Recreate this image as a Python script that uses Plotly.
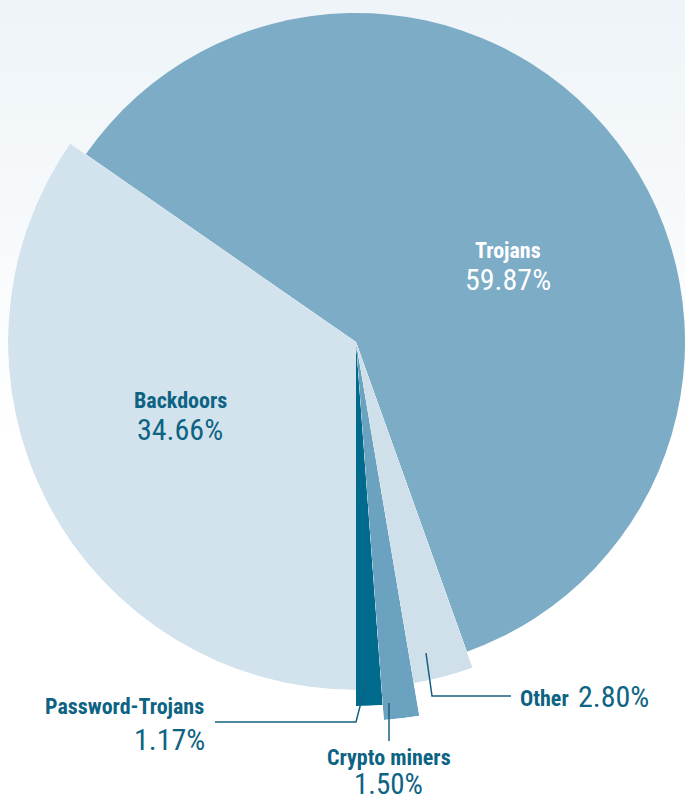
import math
import plotly.graph_objects as go

# ---------------- data ----------------
categories = ["Backdoors", "Trojans", "Other", "Crypto miners", "Password-Trojans"]
shares = [34.66, 59.87, 2.80, 1.50, 1.17]
value_labels = ["34.66%", "59.87%", "2.80%", "1.50%", "1.17%"]

# ---------------- styles ----------------
slice_colors = ["#d3e3ed", "#7cacc6", "#cfe0eb", "#6aa2bf", "#006b8c"]
slice_radius_px = [348, 333, 346, 379, 364]   # visual "pop-out" radius per slice
W, H = 685, 803
CX, CY = 356, 342          # pie centre in page pixels
START = 180                # compass angle where the first slice starts (clockwise)
TEXT = "#0d6383"
LINE = "#16607f"
BOLD_FONT = "Liberation Sans Narrow, Arial Narrow, Roboto Condensed, sans-serif"
NUM_FONT = "Liberation Sans Narrow, Arial Narrow, Roboto Condensed, sans-serif"


def sector_bbox(s0, s1):
    """Same bounding-box rule plotly.js uses for a polar sector."""
    arc = s1 - s0
    a0 = s0 % 360
    a1 = a0 + arc
    c0, n0 = math.cos(math.radians(a0)), math.sin(math.radians(a0))
    c1, n1 = math.cos(math.radians(a1)), math.sin(math.radians(a1))
    if (a0 <= 90 and a1 >= 90) or (a0 > 90 and a1 >= 450):
        y1 = 1
    elif n0 <= 0 and n1 <= 0:
        y1 = 0
    else:
        y1 = max(n0, n1)
    if (a0 <= 180 and a1 >= 180) or (a0 > 180 and a1 >= 540):
        x0 = -1
    elif c0 >= 0 and c1 >= 0:
        x0 = 0
    else:
        x0 = min(c0, c1)
    if (a0 <= 270 and a1 >= 270) or (a0 > 270 and a1 >= 630):
        y0 = -1
    elif n0 >= 0 and n1 >= 0:
        y0 = 0
    else:
        y0 = min(n0, n1)
    if a1 >= 360:
        x1 = 1
    elif c0 <= 0 and c1 <= 0:
        x1 = 0
    else:
        x1 = max(c0, c1)
    return x0, y0, x1, y1


fig = go.Figure()

# soft background wash (light at the top, white toward the bottom)
fig.add_trace(go.Scatter(
    x=[0, 1, 1, 0, 0], y=[0, 0, 1, 1, 0],
    mode="lines", fill="toself", line=dict(width=0),
    fillgradient=dict(type="vertical",
                      colorscale=[[0, "#ffffff"], [0.45, "#ffffff"], [1, "#eef4f8"]]),
    hoverinfo="skip", showlegend=False, xaxis="x", yaxis="y",
))

layout_polars = {}
cum = 0.0
for i, (name, val) in enumerate(zip(categories, shares)):
    t0 = START + cum * 3.6
    t1 = START + (cum + val) * 3.6
    cum += val
    # screen sector (ccw from east) for a clockwise axis rotated by 90
    s0, s1 = 90 - t1, 90 - t0
    x0, y0, x1, y1 = sector_bbox(s0, s1)
    up = H - CY
    lim = [slice_radius_px[i]]
    if x0 < 0:
        lim.append(CX / -x0)
    if x1 > 0:
        lim.append((W - CX) / x1)
    if y0 < 0:
        lim.append(up / -y0)
    if y1 > 0:
        lim.append(CY / y1)
    R = min(lim) - 0.001
    dom_x = [max(0, (CX + R * x0) / W), min(1, (CX + R * x1) / W)]
    dom_y = [max(0, (up + R * y0) / H), min(1, (up + R * y1) / H)]
    pid = "polar" if i == 0 else f"polar{i + 1}"
    layout_polars[pid] = dict(
        domain=dict(x=dom_x, y=dom_y),
        sector=[s0, s1],
        bgcolor="rgba(0,0,0,0)",
        hole=0,
        radialaxis=dict(visible=False, range=[0, R]),
        angularaxis=dict(visible=False, rotation=90, direction="clockwise"),
    )
    fig.add_trace(go.Barpolar(
        r=[slice_radius_px[i]],
        theta=[(t0 + t1) / 2],
        width=[t1 - t0],
        marker=dict(color=slice_colors[i], line=dict(width=0)),
        name=name,
        subplot=pid,
        hoverinfo="skip",
        showlegend=False,
    ))


def px(x):
    return x / W


def py(y):
    return 1 - y / H


annotations = []


def label(text, x, y, size, color, bold=False, anchor="center"):
    annotations.append(dict(
        text=f"<b>{text}</b>" if bold else text,
        x=px(x), y=py(y), xref="paper", yref="paper",
        xanchor=anchor, yanchor="middle", showarrow=False,
        font=dict(family=BOLD_FONT if bold else NUM_FONT, size=size, color=color),
    ))


idx = {c: k for k, c in enumerate(categories)}
# Trojans
label(categories[idx["Trojans"]], 508, 251, 22, "white", bold=True)
label(value_labels[idx["Trojans"]], 508, 279, 30, "white")
# Backdoors
label(categories[idx["Backdoors"]], 180, 400, 22, TEXT, bold=True)
label(value_labels[idx["Backdoors"]], 180, 429, 30, TEXT)
# Password-Trojans
label(categories[idx["Password-Trojans"]], 206, 706, 22, TEXT, bold=True, anchor="right")
label(value_labels[idx["Password-Trojans"]], 207, 739, 30, TEXT, anchor="right")
# Crypto miners
label(categories[idx["Crypto miners"]], 389, 757, 22, TEXT, bold=True)
label(value_labels[idx["Crypto miners"]], 388, 784, 29, TEXT)
# Other
label(categories[idx["Other"]], 518, 698, 22, TEXT, bold=True, anchor="left")
label(value_labels[idx["Other"]], 576, 696, 30, TEXT, anchor="left")


def path(points):
    return "M " + " L ".join(f"{px(x):.5f},{py(y):.5f}" for x, y in points)


leaders = [
    [(215, 722), (356, 722), (366, 683)],   # Password-Trojans
    [(389, 703), (389, 741)],               # Crypto miners
    [(426, 653), (432, 696), (511, 696)],   # Other
]
shapes = [dict(type="path", path=path(p), xref="paper", yref="paper",
               line=dict(color=LINE, width=1.5)) for p in leaders]

fig.update_layout(
    width=W, height=H,
    margin=dict(l=0, r=0, t=0, b=0),
    paper_bgcolor="white",
    plot_bgcolor="white",
    showlegend=False,
    xaxis=dict(visible=False, range=[0, 1], domain=[0, 1], fixedrange=True),
    yaxis=dict(visible=False, range=[0, 1], domain=[0, 1], fixedrange=True),
    annotations=annotations,
    shapes=shapes,
    **layout_polars,
)

fig.write_html("out.html", config={"displayModeBar": False})
